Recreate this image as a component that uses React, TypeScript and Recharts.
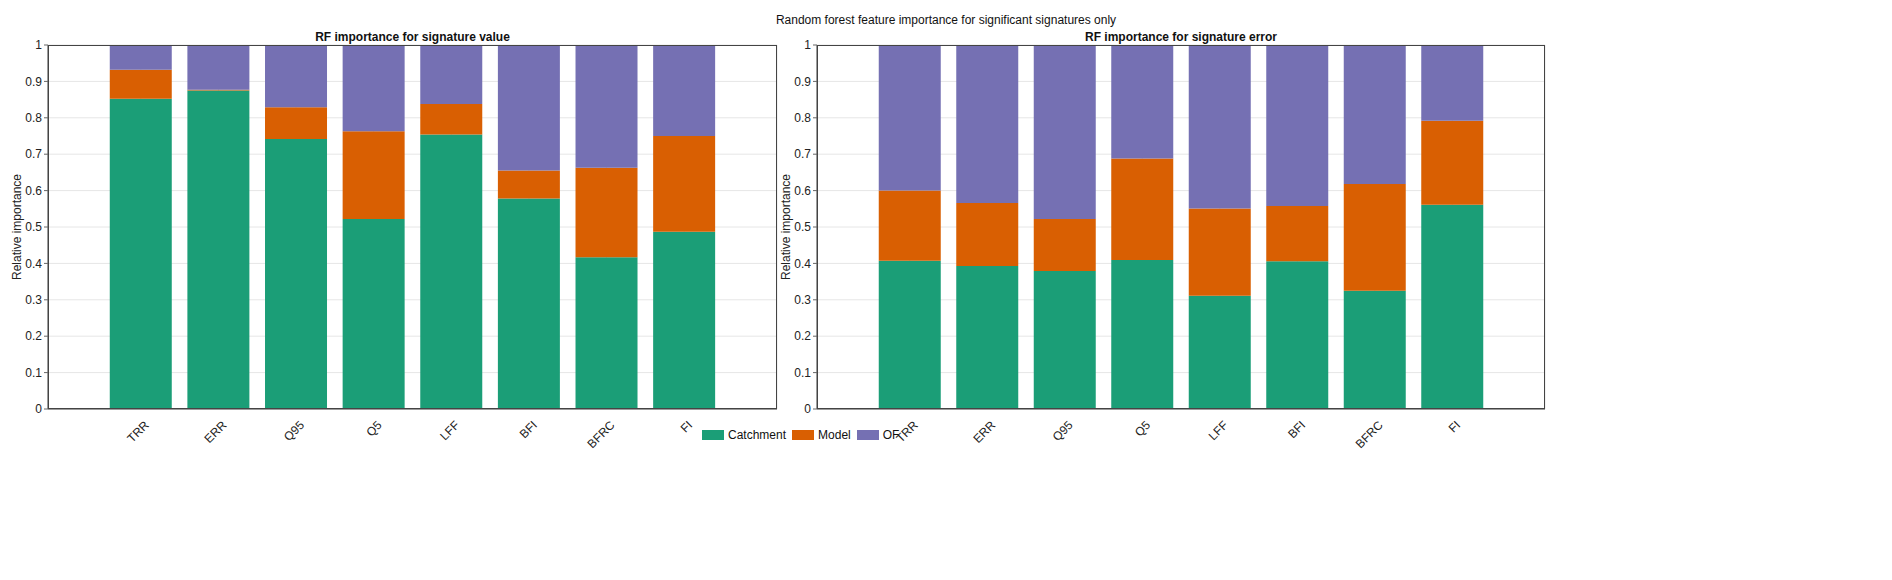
import React from 'react';
import { BarChart, Bar, XAxis, YAxis, CartesianGrid } from 'recharts';

const signatures = ['TRR', 'ERR', 'Q95', 'Q5', 'LFF', 'BFI', 'BFRC', 'FI'];
const valueCatchment = [0.852, 0.875, 0.742, 0.522, 0.754, 0.578, 0.417, 0.487];
const valueModel = [0.08, 0.002, 0.087, 0.241, 0.084, 0.077, 0.246, 0.263];
const valueOF = [0.068, 0.123, 0.171, 0.237, 0.162, 0.345, 0.337, 0.25];
const errorCatchment = [0.407, 0.393, 0.379, 0.409, 0.311, 0.406, 0.325, 0.561];
const errorModel = [0.193, 0.173, 0.143, 0.279, 0.24, 0.152, 0.293, 0.231];
const errorOF = [0.4, 0.434, 0.478, 0.312, 0.449, 0.442, 0.382, 0.208];
const yTicks = [0, 0.1, 0.2, 0.3, 0.4, 0.5, 0.6, 0.7, 0.8, 0.9, 1];

const font = '"Liberation Sans", Arial, sans-serif';

const build = (c: number[], m: number[], o: number[]) =>
  signatures.map((name, i) => ({ name, Catchment: c[i], Model: m[i], OF: o[i] }));

const RotTick = (props: any) => {
  const { x, y, payload } = props;
  return (
    <g transform={`translate(${x + 6},${y + 6})`}>
      <text transform="rotate(-45)" textAnchor="end" fontSize={12} fill="#222" fontFamily={font} dy={4}>
        {payload.value}
      </text>
    </g>
  );
};

function Panel({ data, left, width, title }: any) {
  return (
    <div style={{ position: 'absolute', left, top: 0 }}>
      <BarChart width={width} height={480} data={data}
        margin={{ top: 37, right: 3, left: 0, bottom: 19 }} barCategoryGap="10%">
        <CartesianGrid stroke="#e6e6e6" />
        <XAxis dataKey="name" tick={<RotTick />} height={60} padding={{ left: 54, right: 54 }}
          axisLine={{ stroke: '#444' }} tickLine={false} interval={0} />
        <YAxis domain={[0, 1]} ticks={yTicks} width={40} tick={{ fontSize: 12, fill: '#222', fontFamily: font }}
          tickFormatter={(v: number) => String(v)} axisLine={{ stroke: '#444' }} tickSize={4}
          label={{ value: 'Relative importance', angle: -90, position: 'insideLeft', dx: 4, dy: 0, style: { textAnchor: 'middle', fontSize: 12, fontFamily: font, fill: '#222' } }} />
        <Bar dataKey="Catchment" stackId="a" fill="#1b9e77" isAnimationActive={false} />
        <Bar dataKey="Model" stackId="a" fill="#d95f02" isAnimationActive={false} />
        <Bar dataKey="OF" stackId="a" fill="#7570b3" isAnimationActive={false} />
      </BarChart>
      <div style={{ position: 'absolute', left: 40, top: 37, width: width - 43, height: 364, border: '1px solid #444', boxSizing: 'border-box', pointerEvents: 'none' }} />
      <div style={{ position: 'absolute', left: 40, top: 22, width: width - 43, textAlign: 'center', fontWeight: 'bold', fontSize: 12, fontFamily: font, color: '#111' }}>{title}</div>
    </div>
  );
}

export default function App() {
  const items = [['Catchment', '#1b9e77'], ['Model', '#d95f02'], ['OF', '#7570b3']];
  return (
    <div style={{ position: 'relative', width: 1876, height: 564, background: '#fff', fontFamily: font }}>
      <div style={{ position: 'absolute', left: 0, top: 5, width: 1876, textAlign: 'center', fontSize: 12, color: '#111' }}>
        Random forest feature importance for significant signatures only
      </div>
      <Panel data={build(valueCatchment, valueModel, valueOF)} left={0} width={772} title="RF importance for signature value" />
      <Panel data={build(errorCatchment, errorModel, errorOF)} left={769} width={771} title="RF importance for signature error" />
      <div style={{ position: 'absolute', left: 694, top: 420, display: 'flex', gap: 6, fontSize: 12, color: '#111', alignItems: 'center' }}>
        {items.map(([n, c]) => (
          <div key={n} style={{ display: 'flex', alignItems: 'center', gap: 4 }}>
            <span style={{ width: 22, height: 10, background: c, display: 'inline-block' }} />
            <span>{n}</span>
          </div>
        ))}
      </div>
    </div>
  );
}
